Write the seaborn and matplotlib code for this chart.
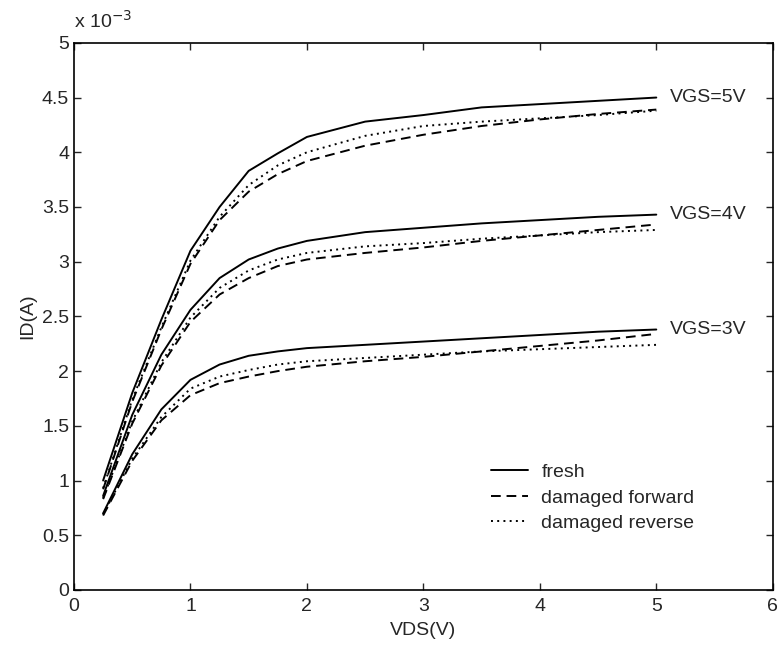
import numpy as np
import pandas as pd
import matplotlib
matplotlib.use("Agg")
import matplotlib.pyplot as plt
import seaborn as sns
from matplotlib.ticker import FuncFormatter, MultipleLocator

# drain voltage points (V)
vds = [0.25, 0.5, 0.75, 1.0, 1.25, 1.5, 1.75, 2.0, 2.5, 3.0, 3.5, 4.0, 4.5, 5.0]

# drain current, in units of 1e-3 A
fresh_5 = [1.00, 1.80, 2.47, 3.10, 3.50, 3.83, 3.99, 4.14, 4.28, 4.34, 4.41, 4.44, 4.47, 4.50]
fwd_5 = [0.92, 1.72, 2.38, 2.98, 3.38, 3.64, 3.80, 3.92, 4.06, 4.16, 4.24, 4.30, 4.35, 4.39]
rev_5 = [0.93, 1.74, 2.40, 3.01, 3.41, 3.70, 3.88, 4.00, 4.15, 4.24, 4.28, 4.31, 4.34, 4.38]

fresh_4 = [0.86, 1.60, 2.15, 2.56, 2.85, 3.02, 3.12, 3.19, 3.27, 3.31, 3.35, 3.38, 3.41, 3.43]
fwd_4 = [0.83, 1.52, 2.05, 2.45, 2.70, 2.85, 2.96, 3.02, 3.08, 3.13, 3.19, 3.24, 3.29, 3.34]
rev_4 = [0.84, 1.54, 2.08, 2.49, 2.76, 2.92, 3.02, 3.08, 3.14, 3.17, 3.21, 3.24, 3.27, 3.29]

fresh_3 = [0.70, 1.24, 1.65, 1.92, 2.06, 2.14, 2.18, 2.21, 2.24, 2.27, 2.30, 2.33, 2.36, 2.38]
fwd_3 = [0.68, 1.18, 1.55, 1.78, 1.89, 1.95, 2.00, 2.04, 2.09, 2.13, 2.18, 2.23, 2.28, 2.34]
rev_3 = [0.69, 1.20, 1.58, 1.84, 1.95, 2.01, 2.06, 2.09, 2.12, 2.15, 2.18, 2.20, 2.22, 2.24]

conditions = ["fresh", "damaged forward", "damaged reverse"]
vgs_labels = ["VGS=5V", "VGS=4V", "VGS=3V"]

series = {
    "VGS=5V": [fresh_5, fwd_5, rev_5],
    "VGS=4V": [fresh_4, fwd_4, rev_4],
    "VGS=3V": [fresh_3, fwd_3, rev_3],
}

rows = []
for vgs in vgs_labels:
    for cond, vals in zip(conditions, series[vgs]):
        for x, y in zip(vds, vals):
            rows.append({"vds": x, "id": y * 1e-3, "vgs": vgs, "condition": cond})
df = pd.DataFrame(rows)

sns.set_style("ticks")
plt.rcParams["font.family"] = ["Liberation Sans", "DejaVu Sans"]
fs = 14

fig = plt.figure(figsize=(7.79, 6.49), dpi=100)
ax = fig.add_axes([0.095, 0.091, 0.897, 0.843])

sns.lineplot(data=df, x="vds", y="id", style="condition", units="vgs",
             estimator=None, color="black", linewidth=1.4, ax=ax,
             style_order=conditions,
             dashes={"fresh": "", "damaged forward": (5, 3), "damaged reverse": (1, 2.2)})

# curve labels at the right end of each fresh curve
for vgs in vgs_labels:
    ax.text(5.12, series[vgs][0][-1] * 1e-3, vgs, va="center", ha="left", fontsize=fs)

ax.set_xlim(0, 6)
ax.set_ylim(0, 5e-3)
ax.xaxis.set_major_locator(MultipleLocator(1))
ax.yaxis.set_major_locator(MultipleLocator(0.5e-3))
ax.yaxis.set_major_formatter(FuncFormatter(lambda v, p: f"{v * 1e3:g}"))
ax.tick_params(direction="in", top=True, right=True, length=5, width=1, labelsize=fs)
ax.tick_params(axis="x", pad=6)
for s in ax.spines.values():
    s.set_linewidth(1.2)
    s.set_color("black")

ax.set_xlabel("VDS(V)", fontsize=fs, labelpad=5)
ax.set_ylabel("ID(A)", fontsize=fs, labelpad=4)
ax.text(0.0, 1.02, r"x 10$^{-3}$", transform=ax.transAxes, fontsize=fs, va="bottom", ha="left")

handles, labels = ax.get_legend_handles_labels()
pairs = [(h, l) for h, l in zip(handles, labels) if l in conditions]
ax.legend([h for h, l in pairs], [l for h, l in pairs], loc="upper left",
          bbox_to_anchor=(0.5966, 0.231), frameon=False, fontsize=fs,
          borderpad=0, borderaxespad=0,
          handlelength=1.9, handletextpad=0.7, labelspacing=0.4)

plt.savefig("out.png", dpi=100)
